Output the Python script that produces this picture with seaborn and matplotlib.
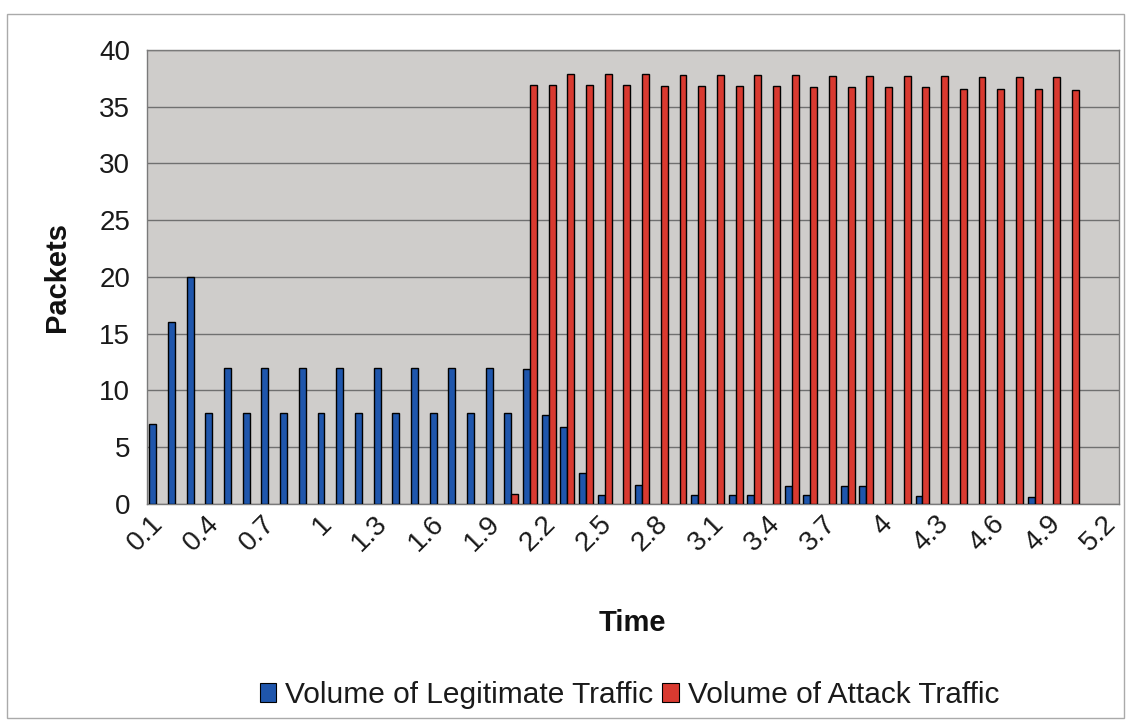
import numpy as np
import pandas as pd
import matplotlib
matplotlib.use("Agg")
import matplotlib.pyplot as plt
import matplotlib.transforms as mtransforms
import seaborn as sns
from matplotlib.patches import Patch, Rectangle

time_labels = ["0.1", "0.2", "0.3", "0.4", "0.5", "0.6", "0.7", "0.8", "0.9", "1",
               "1.1", "1.2", "1.3", "1.4", "1.5", "1.6", "1.7", "1.8", "1.9", "2",
               "2.1", "2.2", "2.3", "2.4", "2.5", "2.6", "2.7", "2.8", "2.9", "3",
               "3.1", "3.2", "3.3", "3.4", "3.5", "3.6", "3.7", "3.8", "3.9", "4",
               "4.1", "4.2", "4.3", "4.4", "4.5", "4.6", "4.7", "4.8", "4.9", "5",
               "5.1", "5.2"]

nan = float("nan")
legit = [7, 16, 20, 8, 12, 8, 12, 8, 12, 8,
         12, 8, 12, 8, 12, 8, 12, 8, 12, 8,
         11.9, 7.8, 6.8, 2.7, 0.8, nan, 1.7, nan, nan, 0.8,
         nan, 0.8, 0.8, nan, 1.6, 0.8, nan, 1.6, 1.6, nan,
         nan, 0.7, nan, nan, nan, nan, nan, 0.6, nan, nan,
         nan, nan]

attack = [nan, nan, nan, nan, nan, nan, nan, nan, nan, nan,
          nan, nan, nan, nan, nan, nan, nan, nan, nan, 0.9,
          36.9, 36.9, 37.9, 36.9, 37.9, 36.9, 37.9, 36.8, 37.8, 36.8,
          37.8, 36.8, 37.8, 36.8, 37.8, 36.7, 37.7, 36.7, 37.7, 36.7,
          37.7, 36.7, 37.7, 36.6, 37.6, 36.6, 37.6, 36.6, 37.6, 36.5,
          nan, nan]

series_names = ["Volume of Legitimate Traffic", "Volume of Attack Traffic"]
series_colors = ["#1F56AC", "#D93A30"]
y_ticks = [0, 5, 10, 15, 20, 25, 30, 35, 40]

n = len(time_labels)
df = pd.DataFrame({
    "Time": time_labels * 2,
    "Packets": legit + attack,
    "Series": [series_names[0]] * n + [series_names[1]] * n,
}).dropna()

sns.set_theme(style="white")
plt.rcParams["font.family"] = ["Liberation Sans", "DejaVu Sans"]

fig = plt.figure(figsize=(11.3, 7.24), dpi=100)
ax = fig.add_axes([0.130, 0.304, 0.860, 0.627])
ax.set_facecolor("#CFCDCB")

sns.barplot(data=df, x="Time", y="Packets", hue="Series",
            order=time_labels, hue_order=series_names,
            palette=series_colors, saturation=1, width=0.74,
            edgecolor="black", linewidth=1.0, legend=False, ax=ax, zorder=3)

ax.set_axisbelow(True)
ax.yaxis.grid(True, color="#707070", linewidth=1.0, zorder=0)
ax.xaxis.grid(False)

ax.set_ylim(0, 40)
ax.set_yticks(y_ticks)
ax.set_xlim(-0.5, n - 0.5)

major_pos = list(range(0, n, 3))
ax.set_xticks(major_pos)
ax.set_xticklabels([time_labels[i] for i in major_pos], rotation=45,
                   ha="right", rotation_mode="anchor", fontsize=20)
ax.set_xticks([i - 0.5 for i in range(n + 1)], minor=True)
ax.tick_params(axis="x", which="major", length=0, pad=5)
ax.tick_params(axis="x", which="minor", length=8, width=0.9,
               color="#7A7A7A", direction="out")
ax.tick_params(axis="y", which="major", length=8, width=0.9,
               color="#7A7A7A", direction="out", labelsize=20, pad=4)
shift = mtransforms.ScaledTranslation(-6 / 100, 0, fig.dpi_scale_trans)
for lbl in ax.get_xticklabels():
    lbl.set_transform(lbl.get_transform() + shift)
for lbl in ax.get_xticklabels() + ax.get_yticklabels():
    lbl.set_color("#1A1A1A")

for sp in ax.spines.values():
    sp.set_color("#7A7A7A")
    sp.set_linewidth(1.0)
    sp.set_visible(True)

ax.set_xlabel("Time", fontsize=21, fontweight="bold", color="#111111")
ax.set_ylabel("Packets", fontsize=21, fontweight="bold", color="#111111")
ax.xaxis.set_label_coords(0.5, -0.232)
ax.yaxis.set_label_coords(-0.078, 0.5)

handles = [Patch(facecolor=c, edgecolor="black", linewidth=0.8, label=s)
           for s, c in zip(series_names, series_colors)]
fig.legend(handles=handles, loc="center", bbox_to_anchor=(0.557, 0.040),
           ncol=2, frameon=False, fontsize=21.5, handlelength=0.55,
           handleheight=0.6, handletextpad=0.3, columnspacing=0.3,
           labelcolor="#1A1A1A")

fig.patches.append(Rectangle((7 / 1130, 6 / 724), 1117 / 1130, 704 / 724,
                             transform=fig.transFigure, fill=False,
                             edgecolor="#AAAAAA", linewidth=1.0))

fig.savefig("out.png", dpi=100, facecolor="white")
